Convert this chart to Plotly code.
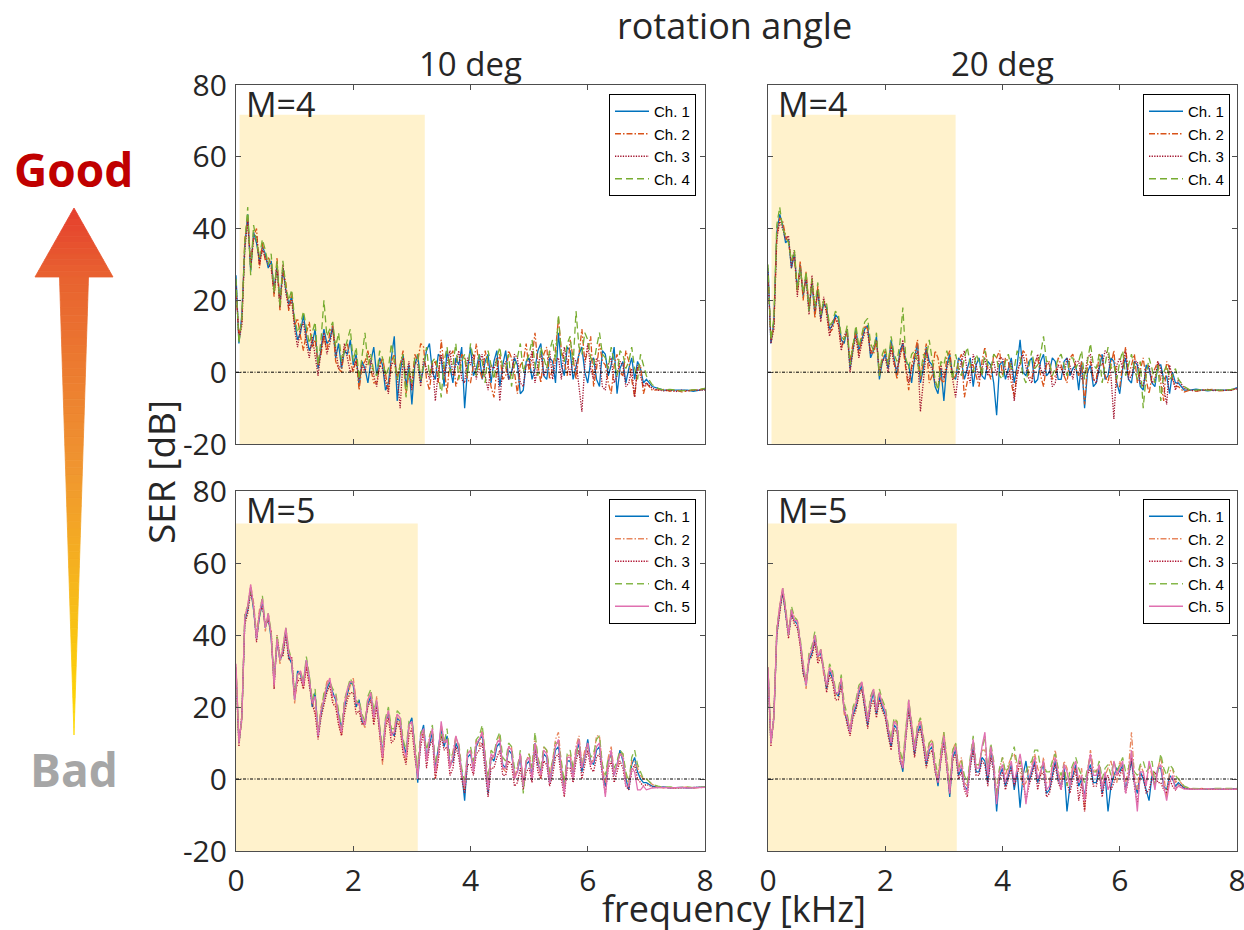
import plotly.graph_objects as go

W, H = 1244, 930

# ---------------- data ----------------
freq = [0.0, 0.05, 0.1, 0.15, 0.2, 0.25, 0.3, 0.35, 0.4, 0.45,
        0.5, 0.55, 0.6, 0.65, 0.7, 0.75, 0.8, 0.85, 0.9, 0.95,
        1.0, 1.05, 1.1, 1.15, 1.2, 1.25, 1.3, 1.35, 1.4, 1.45,
        1.5, 1.55, 1.6, 1.65, 1.7, 1.75, 1.8, 1.85, 1.9, 1.95,
        2.0, 2.05, 2.1, 2.15, 2.2, 2.25, 2.3, 2.35, 2.4, 2.45,
        2.5, 2.55, 2.6, 2.65, 2.7, 2.75, 2.8, 2.85, 2.9, 2.95,
        3.0, 3.05, 3.1, 3.15, 3.2, 3.25, 3.3, 3.35, 3.4, 3.45,
        3.5, 3.55, 3.6, 3.65, 3.7, 3.75, 3.8, 3.85, 3.9, 3.95,
        4.0, 4.05, 4.1, 4.15, 4.2, 4.25, 4.3, 4.35, 4.4, 4.45,
        4.5, 4.55, 4.6, 4.65, 4.7, 4.75, 4.8, 4.85, 4.9, 4.95,
        5.0, 5.05, 5.1, 5.15, 5.2, 5.25, 5.3, 5.35, 5.4, 5.45,
        5.5, 5.55, 5.6, 5.65, 5.7, 5.75, 5.8, 5.85, 5.9, 5.95,
        6.0, 6.05, 6.1, 6.15, 6.2, 6.25, 6.3, 6.35, 6.4, 6.45,
        6.5, 6.55, 6.6, 6.65, 6.7, 6.75, 6.8, 6.85, 6.9, 6.95,
        7.0, 7.1, 7.2, 7.3, 7.4, 7.5, 7.6, 7.7, 7.8, 7.9, 8.0]

channel_names = ["Ch. 1", "Ch. 2", "Ch. 3", "Ch. 4", "Ch. 5"]
col_titles = ["10 deg", "20 deg"]
row_labels = ["M=4", "M=5"]
y_tickvals = [-20, 0, 20, 40, 60, 80]
y_ticktext = ["-20", "0", "20", "40", "60", "80"]
x_tickvals = [0, 2, 4, 6, 8]
x_ticktext = ["0", "2", "4", "6", "8"]

# ---- M=4, 10 deg ----
m4_10_ch1 = [27, 8, 16, 35, 44, 28, 39, 36, 31, 35,
             33, 29, 31, 23, 30, 19, 29, 23, 19, 21,
             14, 9, 11, 16, 10, 6, 8, 12, 1, 7,
             12, 8, 9, 13, 4, 8, 1, 6, 5, 9,
             2, 5, -4, 3, 1, -3, 3, 7, -1, 4,
             2, -5, -3, 4, 10, -8, 0, 5, -4, 2,
             -9, 2, 5, -3, 1, 6, 8, 0, -2, 5,
             4, -4, 6, 2, -3, 4, 2, 7, -10, 1,
             7, -1, 1, 5, -2, 3, 5, -3, 3, 6,
             -4, 2, 6, -2, 0, 4, 2, -6, -5, 3,
             4, -2, 1, 6, 8, -1, -2, 4, 3, -3,
             11, 2, -1, 7, 6, -2, 2, 5, 7, 0,
             -3, 3, 4, -2, -4, 6, 5, -1, 2, 7,
             -6, 1, 3, -3, 1, 4, -2, 3, 1, -3,
             -2, -4, -4.5, -5, -5, -5, -5.2, -5, -5.3, -5, -4.7]
m4_10_ch2 = [22, 10, 14, 37, 43, 30, 38, 40, 29, 36,
             31, 32, 30, 21, 32, 17, 28, 25, 17, 22,
             13, 15, 10, 6, 11, 14, 7, 9, 2, 5,
             10, 6, 11, 13, 3, 1, 0, 7, 8, 3,
             0, 4, -5, 2, 3, 6, 1, -3, -3, 2,
             4, -1, -5, 3, 5, -2, 2, 6, -6, 0,
             -4, 5, 3, 8, 7, -2, -5, 2, 3, -3,
             9, 2, -6, 4, 6, -4, -1, 5, 4, -2,
             -3, 2, 8, 1, -2, 6, 2, -4, -7, 1,
             5, -2, -1, 6, 4, 0, -6, 2, 3, 8,
             0, 4, 11, 2, -3, 5, 7, -2, 1, 6,
             15, 6, 3, -1, 9, 4, -2, 5, 12, 3,
             6, 10, -4, 1, 8, 3, 2, -3, -6, 2,
             5, 0, -1, 6, 3, -2, -7, 1, 2, -6,
             -3, -5, -5, -4.8, -5.3, -5, -5.5, -5.2, -5, -5, -4.5]
m4_10_ch3 = [25, 9, 13, 34, 42, 29, 37, 38, 30, 34,
             32, 30, 29, 22, 29, 18, 30, 22, 18, 20,
             12, 7, 12, 14, 8, 4, 10, 5, -1, 6,
             11, 5, 8, 12, 6, 1, 2, 8, 4, 0,
             1, 3, -2, 2, 0, 5, 4, -1, -4, 2,
             1, -3, -6, 2, 3, -1, -10, 4, -1, 3,
             -5, 3, 2, -4, 4, 1, -2, 3, -8, 0,
             5, -1, 3, 6, -1, 2, 6, -2, -3, 4,
             2, 5, -2, 3, 5, -1, -5, 2, 1, 4,
             -8, 1, 3, -2, -1, 5, 4, -3, -4, 2,
             2, 6, -3, 2, 5, -1, 1, 6, -2, 3,
             4, -2, 7, 3, -1, 4, 3, -4, -11, 2,
             8, 1, -2, 4, 3, -4, -5, 2, 4, -3,
             -1, 3, 2, -4, -3, 1, -7, 2, -1, -4,
             -3, -4.5, -5, -5.2, -5, -5.4, -5, -5.2, -5, -5, -5]
m4_10_ch4 = [26, 8, 15, 36, 46, 27, 41, 36, 32, 37,
             34, 30, 33, 22, 31, 18, 31, 24, 20, 23,
             15, 11, 13, 17, 12, 8, 11, 14, 2, 9,
             20, 10, 12, 14, 7, 11, 3, 6, 9, 12,
             3, 7, -2, 4, 11, 2, 5, 0, -1, 6,
             4, -1, 1, 8, 3, -2, 2, 5, -7, 1,
             -3, 4, 5, -2, 2, 7, -1, 3, 4, 1,
             -7, 3, 7, 0, 2, 8, -2, 3, 5, -1,
             8, 3, -1, 5, 3, -3, 6, 2, -2, 4,
             7, 1, 1, 5, -4, 2, 4, 8, 0, 3,
             5, 9, 2, -1, 7, 4, 1, 6, 9, 3,
             16, 5, 3, 8, 10, 2, 17, 7, 5, 11,
             9, 4, 2, 7, 11, 5, 4, 1, 7, 3,
             -1, 6, 5, 1, 3, 7, 1, -2, 5, 2,
             -1, -3.5, -4.5, -5, -4.8, -5, -5.2, -5, -5, -4.8, -4.5]

# ---- M=4, 20 deg ----
m4_20_ch1 = [29, 8, 14, 39, 44, 41, 36, 37, 29, 33,
             23, 30, 21, 27, 17, 25, 16, 23, 15, 19,
             18, 12, 13, 16, 15, 9, 8, 12, 1, 7,
             12, 6, 9, 12, 13, 4, 6, 10, -2, 3,
             5, 1, 9, 4, -1, 6, 8, 3, 2, -3,
             4, 8, -3, 1, 7, 3, 2, -4, -6, 1,
             -8, 2, 5, -1, -2, 4, 3, -2, 1, 4,
             -4, 2, 4, -1, -2, 3, 2, -3, -12, 2,
             3, -2, 1, 4, -3, 2, 9, 0, -1, 3,
             4, -3, -2, 3, 5, -1, 0, 4, 3, -2,
             -2, 3, 4, -1, 1, 2, -5, 3, -10, 0,
             2, -4, -3, 1, 5, -2, -1, 4, 3, -3,
             -6, 1, 4, -2, -3, 3, 2, -4, -5, 2,
             1, -3, -4, 2, 2, -2, -1, -6, 0, -3,
             -3, -5, -5, -4.7, -5, -5.2, -5, -5, -4.8, -5, -4.3]
m4_20_ch2 = [27, 9, 13, 38, 43, 42, 38, 36, 31, 32,
             22, 31, 20, 28, 18, 26, 15, 24, 16, 20,
             17, 11, 12, 15, 14, 7, 9, 11, 3, 8,
             11, 5, 10, 13, 12, 6, 5, 9, -1, 4,
             6, 2, 8, 3, -2, 5, 7, 1, -5, 2,
             5, 9, -2, 3, 8, -3, -1, 6, 4, -2,
             -3, 4, 6, -2, -1, 3, 5, -7, -3, 2,
             2, -1, -4, 3, 7, 1, -2, 5, 4, 6,
             -1, 4, 3, -3, -7, 1, 2, 6, 5, -1,
             -2, 3, 4, -1, -4, 2, 3, -2, -1, 4,
             2, -1, -3, 4, 5, 1, -1, 3, -9, 2,
             3, -2, -2, 5, 4, -1, -3, 2, 6, -4,
             -4, 2, 7, -1, 2, 5, -3, 1, 4, -2,
             -6, -1, 1, 3, -3, -8, 3, 1, -2, -4,
             -4, -5.5, -5, -5.3, -5, -5, -4.8, -5.2, -5, -5, -4.5]
m4_20_ch3 = [28, 8, 12, 37, 42, 40, 37, 38, 29, 34,
             21, 29, 22, 26, 16, 27, 17, 23, 14, 21,
             16, 10, 14, 15, 13, 6, 10, 12, 0, 6,
             10, 4, 8, 11, 11, 5, 7, 9, 0, 3,
             4, 0, 7, 2, 1, 4, 9, 2, -3, 1,
             3, 6, -11, -2, 6, 2, 1, -3, -4, 2,
             -2, 1, 4, -2, -7, 0, 3, 6, 0, -3,
             5, 2, -2, 1, 4, -1, 2, 3, -1, 4,
             4, 1, -2, 3, -8, -1, 3, 5, 1, -2,
             -3, 2, 5, 1, -1, 3, 2, -4, -3, 2,
             1, -1, 4, 2, -2, 3, 3, -2, -1, 4,
             5, -2, -3, 2, 2, 6, 5, -1, -13, 2,
             4, 1, 6, -2, -1, 3, 3, -3, -4, 1,
             2, -3, -2, 3, 1, -4, -9, 2, -2, -5,
             -2, -4.5, -5, -5.2, -5, -4.8, -5.1, -5, -5, -5, -4.6]
m4_20_ch4 = [30, 9, 15, 41, 46, 40, 38, 36, 31, 34,
             23, 29, 22, 28, 17, 26, 18, 25, 16, 20,
             19, 13, 14, 17, 16, 10, 9, 13, 2, 8,
             13, 7, 11, 14, 15, 8, 6, 11, -1, 5,
             7, 2, 10, 5, 3, 8, 18, 4, 1, 5,
             6, 2, -1, 5, 4, 9, 3, -2, -5, 3,
             2, 6, 3, -2, 5, 1, -1, 4, 7, 2,
             0, 5, 3, -1, 6, 2, 1, 5, 4, -1,
             -2, 3, 5, 1, 1, 6, 4, -1, -3, 2,
             6, 1, 2, 5, 10, 3, 3, -1, 1, 4,
             5, 2, -1, 4, 4, 1, 3, 6, -2, 3,
             8, 2, 1, 5, -3, 2, 7, 1, 2, -2,
             3, 6, -1, 2, 5, 1, -2, 3, -10, -1,
             4, 1, -3, 2, -8, 0, 2, -2, -1, 1,
             -2, -4, -5, -5, -4.8, -5, -5, -5.2, -5, -4.8, -4.4]

# ---- M=5, 10 deg ----
m5_10_ch1 = [30, 10, 17, 44, 47, 53, 47, 39, 45, 49,
             42, 45, 39, 27, 38, 33, 35, 41, 34, 32,
             22, 30, 29, 26, 33, 28, 20, 24, 12, 18,
             22, 25, 27, 24, 22, 18, 14, 20, 24, 27,
             26, 20, 22, 16, 15, 21, 23, 18, 21, 14,
             7, 16, 18, 13, 12, 17, 16, 10, 7, 15,
             17, 9, -1, 12, 15, 6, 10, 13, 3, 8,
             14, 9, 12, 4, 5, 10, 8, 2, -6, 6,
             7, 3, 9, 11, 12, 5, -4, 6, 5, 9,
             10, 4, 3, 8, 7, 1, 2, 6, -2, 4,
             5, 1, 10, 4, 2, 7, 6, -1, 3, 8,
             9, 3, -3, 5, 5, 1, 7, 10, 2, 6,
             11, 5, 4, 8, 9, 2, -2, 5, 7, 1,
             4, 8, 5, 0, -3, 4, 6, 2, 0, -1,
             -1, -2, -2.3, -2.2, -2.5, -2.4, -2.3, -2.5, -2.4, -2.3, -2.2]
m5_10_ch2 = [31, 11, 16, 45, 48, 54, 49, 40, 47, 50,
             41, 46, 40, 26, 39, 32, 36, 42, 35, 33,
             21, 28, 30, 25, 32, 27, 22, 19, 13, 20,
             23, 27, 28, 22, 21, 16, 12, 21, 23, 26,
             28, 22, 20, 17, 14, 22, 24, 16, 23, 13,
             4, 15, 19, 12, 14, 18, 15, 8, 5, 14,
             15, 8, 2, 11, 13, 5, 12, 14, 0, 6,
             15, 11, 10, 3, 7, 12, 9, 1, -3, 7,
             8, 4, 11, 9, 14, 6, -2, 5, 7, 10,
             12, 3, 2, 9, 9, 0, 4, 7, -1, 5,
             7, 3, 12, 5, 0, 9, 8, 1, 5, 11,
             13, 4, -2, 6, 7, 2, 9, 12, 4, 8,
             10, 4, 6, 12, 12, 3, -1, 6, 9, 2,
             3, 7, 7, 1, -2, 5, 5, 3, 1, 0,
             0, -1.5, -2.2, -2.5, -2.3, -2.6, -2.4, -2.2, -2.5, -2.4, -2.3]
m5_10_ch3 = [29, 9, 18, 43, 46, 52, 48, 38, 46, 48,
             43, 44, 41, 25, 40, 34, 34, 40, 33, 34,
             23, 27, 28, 25, 31, 26, 21, 18, 11, 17,
             21, 24, 26, 21, 20, 15, 12, 18, 22, 24,
             24, 18, 19, 15, 16, 20, 22, 15, 20, 12,
             5, 14, 17, 10, 11, 16, 14, 7, 4, 12,
             14, 6, 1, 9, 13, 3, 9, 11, 0, 5,
             12, 8, 9, 1, 3, 9, 6, 0, -4, 4,
             4, 1, 7, 8, 10, 2, -5, 3, 3, 6,
             8, 1, 1, 5, 4, -2, -1, 3, -3, 2,
             3, -1, 8, 2, 0, 5, 4, -2, 1, 6,
             7, 0, -5, 3, 3, -1, 5, 8, 0, 4,
             8, 3, 2, 6, 7, 1, -4, 3, 5, -1,
             2, 5, 3, -2, -3, 2, 4, 0, -1, -2,
             -1.5, -2.2, -2.4, -2.3, -2.5, -2.5, -2.4, -2.3, -2.5, -2.4, -2.3]
m5_10_ch4 = [31, 10, 17, 46, 48, 53, 48, 40, 45, 51,
             42, 46, 41, 27, 40, 33, 37, 42, 36, 33,
             23, 29, 30, 27, 34, 29, 22, 25, 13, 19,
             24, 26, 27, 25, 24, 19, 14, 22, 25, 28,
             26, 21, 22, 18, 16, 23, 25, 19, 22, 15,
             8, 17, 20, 14, 14, 19, 18, 11, 8, 16,
             16, 10, 3, 13, 14, 8, 12, 15, 4, 9,
             13, 10, 14, 6, 7, 11, 10, 3, -1, 8,
             9, 5, 11, 12, 15, 7, 0, 8, 7, 11,
             13, 6, 5, 10, 9, 3, 3, 8, -4, 5,
             7, 3, 13, 6, 3, 9, 8, 2, 5, 10,
             10, 5, -1, 7, 8, 3, 6, 11, 4, 7,
             9, 6, 7, 11, 12, 4, 1, 6, 6, 3,
             5, 8, 7, 2, -1, 6, 8, 4, 2, 0,
             0, -1.5, -2, -2.3, -2.2, -2.4, -2.3, -2.2, -2.4, -2.3, -2.2]
m5_10_ch5 = [32, 10, 17, 45, 48, 54, 48, 39, 46, 50,
             42, 46, 40, 26, 39, 33, 36, 42, 35, 33,
             22, 29, 30, 26, 33, 28, 21, 23, 12, 19,
             22, 26, 28, 23, 23, 17, 13, 21, 25, 27,
             27, 21, 21, 17, 15, 22, 24, 17, 22, 14,
             6, 16, 19, 12, 13, 18, 17, 9, 6, 15,
             16, 8, 0, 12, 14, 5, 11, 14, 2, 7,
             16, 10, 11, 3, 6, 12, 9, 1, -2, 7,
             8, 2, 10, 11, 13, 6, -3, 7, 6, 10,
             11, 3, 3, 9, 8, 0, 2, 7, -2, 5,
             6, 0, 10, 5, 1, 8, 7, -1, 4, 9,
             11, 2, -4, 6, 6, 0, 8, 11, 3, 7,
             10, 4, 5, 9, 10, 2, -5, 4, 8, 1,
             4, 7, 6, -2, -2, 3, 2, -3, -3, -2,
             -3, -2.5, -2.4, -2.3, -2.5, -2.4, -2.3, -2.5, -2.4, -2.3, -2.3]

# ---- M=5, 20 deg ----
m5_20_ch1 = [30, 10, 17, 40, 47, 52, 46, 40, 46, 44,
             43, 38, 30, 26, 33, 35, 39, 34, 35, 30,
             25, 30, 28, 24, 23, 27, 19, 16, 13, 18,
             20, 24, 26, 20, 15, 21, 24, 18, 23, 20,
             18, 13, 9, 15, 14, 6, 2, 12, 20, 14,
             7, 13, 15, 10, 4, 8, 9, 3, -2, 6,
             11, 4, -5, 6, 8, 1, 3, -2, -3, 4,
             9, 2, 2, 6, 5, -1, 8, 3, -9, 1,
             3, -2, 1, 4, -3, 2, -8, 1, 5, -1,
             2, 5, -1, 2, 4, -4, -3, 1, 5, 0,
             -2, 3, -9, -2, 1, 4, -2, 0, -5, 2,
             4, -1, -1, 3, -4, 1, -9, -2, 1, 3,
             2, 4, -3, 1, 5, -1, -4, 2, 0, -3,
             -6, 1, -2, 3, 3, -2, -3, 1, 0, -2,
             -1, -2.5, -2.8, -2.7, -2.9, -2.8, -2.7, -2.9, -2.8, -2.8, -2.7]
m5_20_ch2 = [31, 11, 16, 41, 48, 53, 47, 41, 47, 45,
             44, 37, 31, 25, 34, 36, 40, 33, 36, 29,
             26, 31, 29, 23, 24, 28, 18, 17, 14, 19,
             21, 25, 27, 21, 17, 22, 25, 19, 24, 21,
             19, 14, 11, 16, 16, 7, 4, 13, 21, 15,
             9, 14, 17, 11, 6, 10, 11, 4, 0, 7,
             13, 5, -3, 8, 10, 3, 6, -1, -2, 5,
             10, 3, 4, 8, 8, 1, 9, 4, -4, 3,
             6, 1, 4, 6, 7, 3, 2, -2, -1, 3,
             4, 7, 3, 1, 6, -1, -1, 4, 8, 2,
             -1, 5, 3, -2, 4, 1, 0, 3, -9, 2,
             8, 3, 2, 4, -2, 1, 3, 5, 1, -1,
             5, 2, -1, 3, 13, 1, -3, 4, 2, -2,
             4, 1, -2, 3, 6, 1, -5, 2, 3, -1,
             0, -2.3, -2.7, -2.8, -2.6, -2.9, -2.8, -2.7, -2.8, -2.9, -2.8]
m5_20_ch3 = [29, 9, 18, 40, 46, 52, 46, 39, 46, 43,
             42, 37, 29, 27, 33, 34, 38, 32, 34, 31,
             24, 29, 27, 22, 22, 26, 20, 15, 12, 17,
             19, 23, 25, 19, 14, 20, 22, 17, 22, 19,
             17, 12, 8, 14, 13, 5, 3, 11, 19, 13,
             6, 12, 14, 9, 3, 7, 8, 2, -1, 5,
             10, 3, -4, 5, 7, 0, 2, -3, -5, 3,
             8, 1, 1, 5, 4, -2, 6, 2, -6, 0,
             2, -3, 0, 3, -2, 1, 5, 0, -6, -2,
             1, 4, -3, 1, 2, -5, -4, 0, 4, -1,
             -3, 2, -1, -4, 0, 3, -6, -1, -9, 1,
             3, -2, -2, 2, -5, 0, 1, -3, -1, 2,
             1, 3, -4, 0, 6, -2, -7, 1, 1, -4,
             -3, 0, 2, -1, -1, -3, -4, 0, -2, -3,
             -1.5, -2.6, -2.8, -2.9, -2.8, -2.7, -2.9, -2.8, -2.8, -2.7, -2.8]
m5_20_ch4 = [31, 10, 17, 42, 48, 53, 48, 40, 48, 45,
             44, 39, 32, 27, 35, 37, 41, 35, 36, 31,
             26, 32, 30, 25, 25, 29, 21, 18, 14, 20,
             22, 26, 27, 22, 17, 23, 25, 20, 25, 22,
             20, 15, 11, 17, 16, 8, 5, 14, 22, 16,
             9, 15, 17, 12, 6, 10, 11, 5, 1, 8,
             13, 6, -2, 8, 10, 3, 5, 1, -1, 6,
             12, 4, 4, 8, 12, 2, 10, 5, -5, 3,
             6, 2, 3, 6, 9, 4, 5, 1, 2, 4,
             5, 8, 8, 3, 4, 2, 2, 5, 7, 3,
             1, 4, -2, 2, 4, 6, 3, 1, -1, 3,
             6, 2, 2, 5, 0, 3, 4, 1, 5, 2,
             4, 6, 2, 3, 7, 2, 1, 4, 5, 2,
             3, 5, -1, 2, 7, 3, 1, 4, 3, 1,
             0, -2, -2.6, -2.7, -2.6, -2.7, -2.6, -2.7, -2.6, -2.6, -2.6]
m5_20_ch5 = [31, 10, 17, 41, 48, 53, 47, 40, 47, 44,
             44, 38, 31, 26, 34, 36, 40, 34, 36, 30,
             26, 31, 29, 24, 24, 28, 19, 17, 13, 19,
             21, 25, 27, 21, 16, 22, 25, 19, 24, 21,
             19, 14, 10, 16, 15, 6, 3, 12, 22, 15,
             8, 14, 16, 11, 5, 9, 10, 3, -1, 6,
             12, 4, -4, 7, 9, 2, 4, -2, -4, 5,
             11, 3, 3, 9, 13, 1, 9, 4, -7, 2,
             4, -1, 2, 5, -1, 3, 7, 2, -7, 0,
             3, 6, 0, 2, 5, -3, -2, 3, 6, 1,
             -3, 4, 2, -2, 3, 5, -1, 1, -6, 2,
             7, 1, 1, 4, -3, 2, -3, -1, 5, 1,
             3, 5, -4, 1, 8, 0, -9, 2, 2, -2,
             5, 2, -3, 3, 4, -2, -6, -1, 1, -3,
             -2, -2.8, -2.7, -2.8, -2.9, -2.7, -2.8, -2.8, -2.7, -2.8, -2.8]

# highlighted band (kHz start, kHz end, dB top) per panel
shade_start = [0.06, 0.06, 0.0, 0.0]
shade_end = [3.22, 3.2, 3.1, 3.22]
shade_top = [71.7, 71.7, 71.0, 71.0]

# ---------------- helpers ----------------
def px(x):
    return x / W


def py(y):
    return 1 - y / H


FONT = "Open Sans, Noto Sans, sans-serif"
LEGFONT = "Liberation Sans, Arial, sans-serif"
TXT = "#262626"
AX = "#4d4d4d"

col_x = [(236, 705), (768, 1237)]
row_y = [(85, 444), (491, 851)]

styles_m4 = [
    dict(color="#0072BD", dash="solid"),
    dict(color="#D95319", dash="6px,2px,1.5px,2px"),
    dict(color="#A2142F", dash="1.3px,1.3px"),
    dict(color="#77AC30", dash="7px,4px"),
]
styles_m5 = [
    dict(color="#0072BD", dash="solid"),
    dict(color="#E8875F", dash="6px,2px,1.5px,2px"),
    dict(color="#B0102F", dash="1.3px,1.3px"),
    dict(color="#86B84A", dash="7px,4px"),
    dict(color="#E070B0", dash="solid"),
]

panels = [
    dict(r=0, c=0, series=[m4_10_ch1, m4_10_ch2, m4_10_ch3, m4_10_ch4], styles=styles_m4),
    dict(r=0, c=1, series=[m4_20_ch1, m4_20_ch2, m4_20_ch3, m4_20_ch4], styles=styles_m4),
    dict(r=1, c=0, series=[m5_10_ch1, m5_10_ch2, m5_10_ch3, m5_10_ch4, m5_10_ch5], styles=styles_m5),
    dict(r=1, c=1, series=[m5_20_ch1, m5_20_ch2, m5_20_ch3, m5_20_ch4, m5_20_ch5], styles=styles_m5),
]

fig = go.Figure()
layout = dict(
    width=W, height=H,
    margin=dict(l=0, r=0, t=0, b=0, autoexpand=False),
    paper_bgcolor="white", plot_bgcolor="white",
    showlegend=True,
    shapes=[], annotations=[],
)

for i, p in enumerate(panels):
    k = i + 1
    sfx = "" if k == 1 else str(k)
    xa, ya = "x" + sfx, "y" + sfx
    leg = "legend" if k == 1 else "legend" + str(k)
    r, c = p["r"], p["c"]
    x0p, x1p = col_x[c]
    y0p, y1p = row_y[r]

    for j, vals in enumerate(p["series"]):
        n = min(len(freq), len(vals))
        st = p["styles"][j]
        fig.add_trace(go.Scatter(
            x=freq[:n], y=vals[:n], mode="lines", name=channel_names[j],
            line=dict(color=st["color"], dash=st["dash"], width=1.3),
            xaxis=xa, yaxis=ya, legend=leg, hoverinfo="skip",
        ))

    common = dict(
        showline=True, linecolor=AX, linewidth=1.2, mirror="ticks",
        ticks="inside", ticklen=5, tickcolor=AX, tickwidth=1.2,
        showgrid=False, zeroline=False, automargin=False,
        tickfont=dict(family=FONT, size=30, color=TXT),
    )
    layout["xaxis" + sfx] = dict(
        common, domain=[px(x0p), px(x1p)], anchor=ya, range=[0, 8],
        tickvals=x_tickvals, ticktext=x_ticktext,
        showticklabels=(r == 1), ticklabelstandoff=3,
        ticklabeloverflow="allow",
    )
    layout["yaxis" + sfx] = dict(
        common, domain=[py(y1p), py(y0p)], anchor=xa, range=[-20, 80],
        tickvals=y_tickvals, ticktext=y_ticktext,
        showticklabels=(c == 0), ticklabelstandoff=2,
        ticklabeloverflow="allow",
    )

    # highlighted band
    layout["shapes"].append(dict(
        type="rect", xref=xa, yref=ya, x0=shade_start[i], x1=shade_end[i],
        y0=-20, y1=shade_top[i], fillcolor="#FFF2CC", line=dict(width=0),
        layer="below",
    ))
    # 0 dB reference line
    layout["shapes"].append(dict(
        type="line", xref=xa + " domain", yref=ya, x0=0, x1=1, y0=0, y1=0,
        line=dict(color="black", width=1, dash="3px,1.5px,1px,1.5px"),
        layer="above",
    ))
    # legend box
    lx = 696 if c == 0 else 1230
    ly = 94 if r == 0 else 499
    layout[leg] = dict(
        x=px(lx), y=py(ly), xanchor="right", yanchor="top",
        bgcolor="white", bordercolor="black", borderwidth=1,
        font=dict(family=LEGFONT, size=15, color="black"),
        itemwidth=34, tracegroupgap=0,
    )
    # M= label
    layout["annotations"].append(dict(
        text=row_labels[r], xref="paper", yref="paper",
        x=px(x0p + 8), y=py(y0p + 19), xanchor="left", yanchor="middle",
        showarrow=False, font=dict(family=FONT, size=34, color=TXT),
    ))

# column titles and global titles
for c, t in enumerate(col_titles):
    layout["annotations"].append(dict(
        text=t, xref="paper", yref="paper",
        x=px((col_x[c][0] + col_x[c][1]) / 2), y=py(63),
        xanchor="center", yanchor="middle", showarrow=False,
        font=dict(family=FONT, size=33, color=TXT),
    ))
layout["annotations"] += [
    dict(text="rotation angle", xref="paper", yref="paper", x=px(734), y=py(26),
         xanchor="center", yanchor="middle", showarrow=False,
         font=dict(family=FONT, size=36, color=TXT)),
    dict(text="frequency [kHz]", xref="paper", yref="paper", x=px(734), y=py(908),
         xanchor="center", yanchor="middle", showarrow=False,
         font=dict(family=FONT, size=36, color=TXT)),
    dict(text="SER [dB]", xref="paper", yref="paper", x=px(160), y=py(472),
         xanchor="center", yanchor="middle", showarrow=False, textangle=-90,
         font=dict(family=FONT, size=37, color=TXT)),
    dict(text="<b>Good</b>", xref="paper", yref="paper", x=px(73), y=py(169),
         xanchor="center", yanchor="middle", showarrow=False,
         font=dict(family=FONT, size=46, color="#C00000")),
    dict(text="<b>Bad</b>", xref="paper", yref="paper", x=px(74), y=py(769),
         xanchor="center", yanchor="middle", showarrow=False,
         font=dict(family=FONT, size=46, color="#A6A6A6")),
]

# gradient arrow (decoration) built from thin horizontal bands
head_top, head_base, tip = 208.0, 277.0, 735.0
cx, head_half, shaft_half = 74.0, 39.0, 14.5
stops = [(208, (229, 62, 46)), (277, (232, 98, 48)), (470, (240, 150, 48)),
         (620, (248, 192, 22)), (735, (255, 218, 0))]


def color_at(y):
    for (ya_, ca), (yb_, cb) in zip(stops[:-1], stops[1:]):
        if ya_ <= y <= yb_:
            t = (y - ya_) / (yb_ - ya_)
            return "rgb(%d,%d,%d)" % tuple(round(a + (b - a) * t) for a, b in zip(ca, cb))
    return "rgb(%d,%d,%d)" % stops[-1][1]


def band(y0, y1, hw0, hw1):
    col = color_at((y0 + y1) / 2)
    path = "M %f,%f L %f,%f L %f,%f L %f,%f Z" % (
        px(cx - hw0), py(y0), px(cx + hw0), py(y0),
        px(cx + hw1), py(y1), px(cx - hw1), py(y1))
    return dict(type="path", xref="paper", yref="paper", path=path,
                fillcolor=col, line=dict(color=col, width=0.8), layer="above")


nh = 12
for k in range(nh):
    y0 = head_top + (head_base - head_top) * k / nh
    y1 = head_top + (head_base - head_top) * (k + 1) / nh
    layout["shapes"].append(band(y0, y1,
                                 head_half * (y0 - head_top) / (head_base - head_top),
                                 head_half * (y1 - head_top) / (head_base - head_top)))
ns = 60
for k in range(ns):
    y0 = head_base + (tip - head_base) * k / ns
    y1 = head_base + (tip - head_base) * (k + 1) / ns
    layout["shapes"].append(band(y0, y1,
                                 shaft_half * (tip - y0) / (tip - head_base),
                                 shaft_half * (tip - y1) / (tip - head_base)))

fig.update_layout(**layout)
fig.write_html(
    "out.html",
    config={"displayModeBar": False},
    post_script="document.body.style.margin='0';document.body.style.padding='0';"
                "document.body.style.overflow='hidden';",
)
